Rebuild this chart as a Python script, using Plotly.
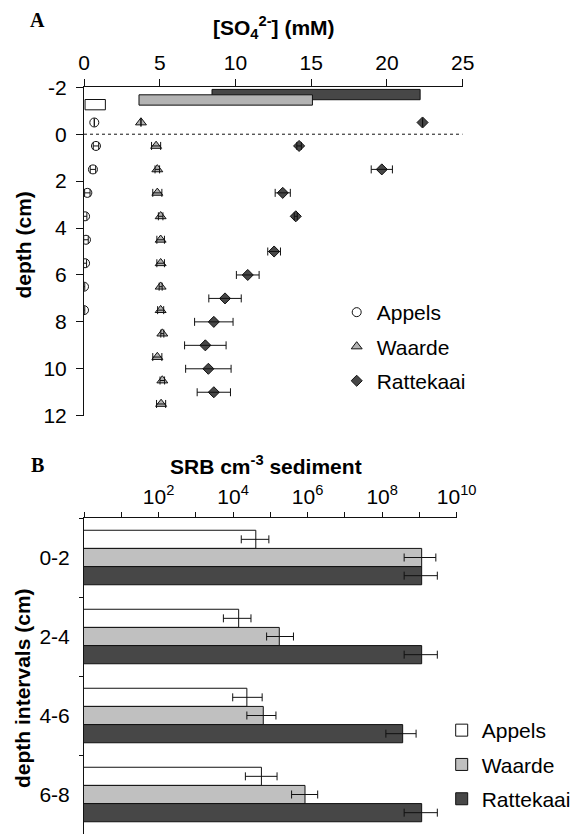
import plotly.graph_objects as go

# ---------------- Panel A data ----------------
appels_depth = [-0.5, 0.5, 1.5, 2.5, 3.5, 4.5, 5.5, 6.5, 7.5]
appels_so4 = [0.68, 0.79, 0.59, 0.22, 0.07, 0.13, 0.07, 0.0, 0.0]
appels_err = [0.0, 0.18, 0.18, 0.18, 0.12, 0.15, 0.1, 0.05, 0.05]
waarde_depth = [-0.5, 0.5, 1.5, 2.5, 3.5, 4.5, 5.5, 6.5, 7.5, 8.5, 9.5, 10.5, 11.5]
waarde_so4 = [3.76, 4.76, 4.84, 4.84, 5.06, 5.06, 5.06, 5.06, 5.06, 5.17, 4.84, 5.17, 5.09]
waarde_err = [0.0, 0.3, 0.15, 0.3, 0.15, 0.25, 0.25, 0.1, 0.2, 0.1, 0.3, 0.15, 0.3]
ratte_depth = [-0.5, 0.5, 1.5, 2.5, 3.5, 5.0, 6.0, 7.0, 8.0, 9.0, 10.0, 11.0]
ratte_so4 = [22.35, 14.2, 19.66, 13.12, 13.98, 12.55, 10.81, 9.31, 8.57, 8.01, 8.21, 8.57]
ratte_err = [0.0, 0.15, 0.7, 0.5, 0.1, 0.42, 0.75, 1.07, 1.27, 1.37, 1.5, 1.1]

# overlying-water ranges (start, end) and their depth position
ow_sites = ["Rattekaai", "Waarde", "Appels"]
ow_depth = [-1.69, -1.46, -1.26]
ow_start = [8.45, 3.63, 0.07]
ow_end = [22.19, 15.08, 1.41]

# ---------------- Panel B data (log10 SRB cm-3) ----------------
intervals = ["0-2", "2-4", "4-6", "6-8"]
appels_log = [4.61, 4.15, 4.37, 4.76]
appels_lo = [4.22, 3.74, 3.99, 4.33]
appels_hi = [4.96, 4.48, 4.78, 5.18]
waarde_log = [9.06, 5.24, 4.81, 5.93]
waarde_lo = [8.59, 4.90, 4.37, 5.57]
waarde_hi = [9.44, 5.62, 5.15, 6.27]
ratte_log = [9.06, 9.06, 8.55, 9.06]
ratte_lo = [8.59, 8.59, 8.10, 8.59]
ratte_hi = [9.48, 9.48, 8.91, 9.48]

a_ticks = [-2, 0, 2, 4, 6, 8, 10, 12]
a_ticktext = ["-2", "0", "2", "4", "6", "8", "10", "12"]
b_exps = list(range(0, 11))
b_ticktext = ["" if (e % 2 or e == 0) else "10<sup>%d</sup>" % e for e in b_exps]

WHITE = "#ffffff"
GREY = "#c0c0c0"
GREY_T = "#b3b3b3"
DARK = "#474747"
LINE = "#111111"
FONT = "Liberation Sans, Arial, sans-serif"
SERIF = "Liberation Serif, Times New Roman, serif"
FS = 21

fig = go.Figure()

# overlying water bars in panel A
ow_colors = [DARK, GREY_T, WHITE]
for s, d, a, b, c in zip(ow_sites, ow_depth, ow_start, ow_end, ow_colors):
    fig.add_trace(go.Bar(
        y=[d], x=[b - a], base=[a], orientation="h", width=0.44, offset=-0.22,
        marker=dict(color=c, line=dict(color=LINE, width=1)),
        showlegend=False, xaxis="x", yaxis="y", hoverinfo="skip"))

series_a = [
    ("Appels", appels_so4, appels_depth, appels_err, "circle", WHITE, 9),
    ("Waarde", waarde_so4, waarde_depth, waarde_err, "triangle-up", GREY_T, 9.5),
    ("Rattekaai", ratte_so4, ratte_depth, ratte_err, "diamond", DARK, 8.5),
]
for name, xs, ys, errs, symbol, color, size in series_a:
    fig.add_trace(go.Scatter(
        x=xs, y=ys, mode="markers", name=name, xaxis="x", yaxis="y",
        legend="legend", legendgroup=name,
        marker=dict(symbol=symbol, color=color, size=size,
                    line=dict(color=LINE, width=1))))
# error bars drawn on top of the markers
for name, xs, ys, errs, symbol, color, size in series_a:
    fig.add_trace(go.Scatter(
        x=xs, y=ys, mode="markers", showlegend=False, xaxis="x", yaxis="y",
        marker=dict(size=1, color="rgba(0,0,0,0)"), hoverinfo="skip",
        error_x=dict(type="data", array=errs, visible=True,
                     color=LINE, thickness=1, width=4)))

# Panel B bars
def bars(name, m, lo, hi, color):
    vals = [10 ** v for v in m]
    plus = [10 ** h - 10 ** v for v, h in zip(m, hi)]
    minus = [10 ** v - 10 ** l for v, l in zip(m, lo)]
    fig.add_trace(go.Bar(
        y=intervals, x=vals, orientation="h", name=name,
        xaxis="x2", yaxis="y2", legend="legend2", legendgroup=name + "b",
        marker=dict(color=color, line=dict(color=LINE, width=1)),
        error_x=dict(type="data", array=plus, arrayminus=minus, visible=True,
                     color=LINE, thickness=1, width=4)))

bars("Appels", appels_log, appels_lo, appels_hi, WHITE)
bars("Waarde", waarde_log, waarde_lo, waarde_hi, GREY)
bars("Rattekaai", ratte_log, ratte_lo, ratte_hi, DARK)

W, H = 573, 834
axis_common = dict(showline=True, linecolor=LINE, linewidth=1, ticks="outside",
                   tickcolor=LINE, showgrid=False, zeroline=False,
                   tickfont=dict(family=FONT, size=FS, color="#000"))

def ann(text, x, y, size, family=FONT, angle=0):
    return dict(text=text, x=x / W, y=1 - y / H, xref="paper", yref="paper",
                xanchor="center", yanchor="middle", textangle=angle,
                showarrow=False, font=dict(family=family, size=size, color="#000"))

fig.update_layout(
    width=W, height=H, margin=dict(l=0, r=0, t=0, b=0, autoexpand=False),
    paper_bgcolor="white", plot_bgcolor="white",
    barmode="group", bargap=0.31, bargroupgap=0,
    font=dict(family=FONT, color="#000"),
    xaxis=dict(axis_common, domain=[84 / W, 462.7 / W], range=[0, 25],
               side="top", anchor="y", tickvals=[0, 5, 10, 15, 20, 25], ticklen=7,
               ticklabelstandoff=1),
    yaxis=dict(axis_common, domain=[1 - 415.7 / H, 1 - 87.3 / H], range=[12, -2],
               anchor="x", tickvals=a_ticks, ticktext=a_ticktext, ticklen=7,
               ticklabelstandoff=5),
    xaxis2=dict(axis_common, domain=[84 / W, 456.7 / W], type="log", range=[0, 10],
                side="top", anchor="y2", tickvals=[10 ** e for e in b_exps],
                ticktext=b_ticktext, ticklen=5),
    yaxis2=dict(axis_common, domain=[0, 1 - 518 / H], type="category",
                categoryorder="array", categoryarray=intervals,
                range=[3.5, -0.5], anchor="x2", tickson="boundaries", ticklen=4,
                ticklabelstandoff=9),
    legend=dict(x=(376.7 - 40) / W, y=1 - 292 / H, xanchor="left", yanchor="top",
                font=dict(family=FONT, size=FS), tracegroupgap=4,
                bgcolor="rgba(0,0,0,0)"),
    legend2=dict(x=(481.7 - 40) / W, y=1 - 710 / H, xanchor="left", yanchor="top",
                 font=dict(family=FONT, size=FS), tracegroupgap=4,
                 bgcolor="rgba(0,0,0,0)"),
    shapes=[dict(type="line", xref="x", yref="y", x0=0, x1=25, y0=0, y1=0,
                 line=dict(color=LINE, width=1, dash="3px,3px"))],
    annotations=[
        ann("<b>A</b>", 37, 20, 20, SERIF),
        ann("<b>B</b>", 37, 465, 20, SERIF),
        ann("<b>[SO<sub>4</sub><sup>2-</sup>] (mM)</b>", 274, 27, 21),
        ann("<b>SRB cm<sup>-3</sup> sediment</b>", 266, 465, 21),
        ann("<b>depth (cm)</b>", 23.5, 245, 21, angle=-90),
        ann("<b>depth intervals (cm)</b>", 22, 688, 21, angle=-90),
    ],
)

fig.write_html("out.html")
